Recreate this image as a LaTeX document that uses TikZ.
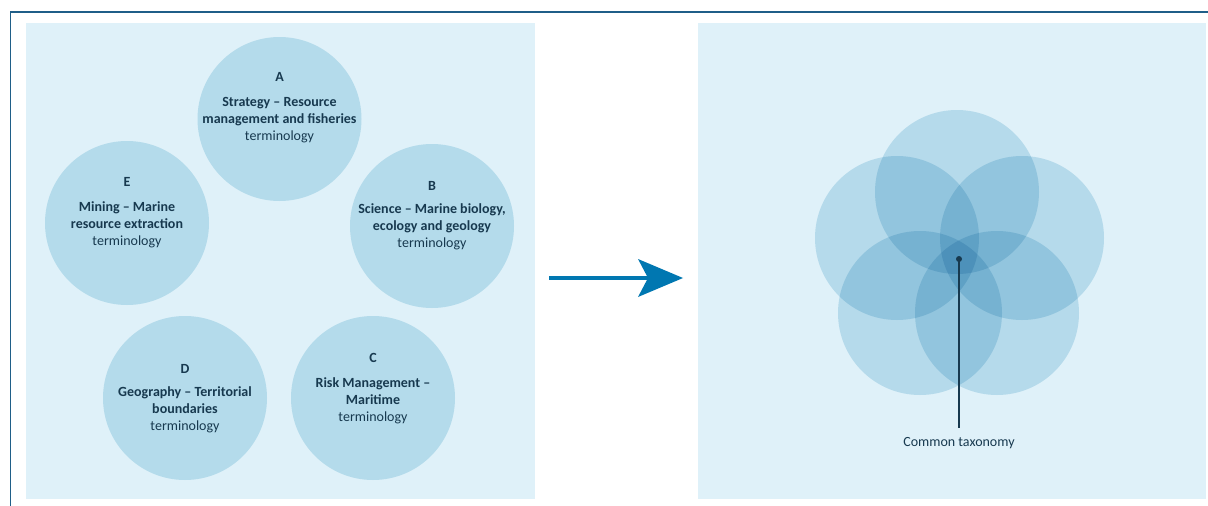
\documentclass[tikz,border=0pt]{standalone}
\usepackage{fontspec}
\setmainfont{Carlito}
\definecolor{frameblue}{HTML}{1F5E88}
\definecolor{panelbg}{HTML}{DFF1F9}
\definecolor{circfill}{HTML}{B4DBEB}
\definecolor{multfill}{HTML}{CFE7F1}
\definecolor{txt}{HTML}{17394F}
\definecolor{arrowblue}{HTML}{0077B1}
\tikzset{
  x=1pt, y=-1pt,
  panel/.style={fill=panelbg, draw=none},
  bubble/.style={circle, fill=circfill, draw=none, minimum size=164pt, inner sep=0pt},
  ghost/.style={circle, fill=multfill, draw=none, minimum size=164pt, inner sep=0pt},
  label/.style={align=center, text=txt, font=\fontsize{14}{16.8}\selectfont, inner sep=0pt},
}
\begin{document}
\begin{tikzpicture}
\useasboundingbox (0,0) rectangle (1208,506);
\fill[white] (0,0) rectangle (1208,506);
% frame
\draw[frameblue, line width=1.4pt] (10.5,506) -- (10.5,12) -- (1208,12);
% panels
\fill[panel] (26,23) rectangle (535,499);
\fill[panel] (698,23) rectangle (1206,499);
% left circles
\node[bubble] (cA) at (279.5,119) {};
\node[bubble] (cB) at (432,226) {};
\node[bubble] (cC) at (373,398) {};
\node[bubble] (cD) at (185,398) {};
\node[bubble] (cE) at (127,223) {};
\node[label] (tA) at (279.5,107.5) {\textbf{A}\\[8pt]\textbf{Strategy – Resource}\\\textbf{management and fisheries}\\terminology};
\node[label] (tB) at (432,215.5) {\textbf{B}\\[6pt]\textbf{Science – Marine biology,}\\\textbf{ecology and geology}\\terminology};
\node[label] (tC) at (373,388.5) {\textbf{C}\\[8pt]\textbf{Risk Management –}\\\textbf{Maritime}\\terminology};
\node[label] (tD) at (185,398.5) {\textbf{D}\\[6pt]\textbf{Geography – Territorial}\\\textbf{boundaries}\\terminology};
\node[label] (tE) at (127,212.5) {\textbf{E}\\[8pt]\textbf{Mining – Marine}\\\textbf{resource extraction}\\terminology};
% arrow
\coordinate (aS) at (549,278);
\coordinate (aE) at (650,278);
\draw[arrowblue, line width=4pt] (aS) -- (aE);
\fill[arrowblue] (683,278) -- (638,259) -- (648,278) -- (638,297) -- cycle;
% right overlapping circles
\begin{scope}[blend mode=multiply]
\node[ghost] (oA) at (957,192) {};
\node[ghost] (oB) at (1022,238) {};
\node[ghost] (oC) at (997,313) {};
\node[ghost] (oD) at (920,313) {};
\node[ghost] (oE) at (897,238) {};
\end{scope}
\coordinate (ctr) at (959,259);
\fill[txt] (ctr) circle (3pt);
\node[label] (tax) at (959,443) {Common taxonomy};
\draw[txt, line width=1.1pt] (ctr) -- (tax.north |- 0,428);
\end{tikzpicture}
\end{document}
